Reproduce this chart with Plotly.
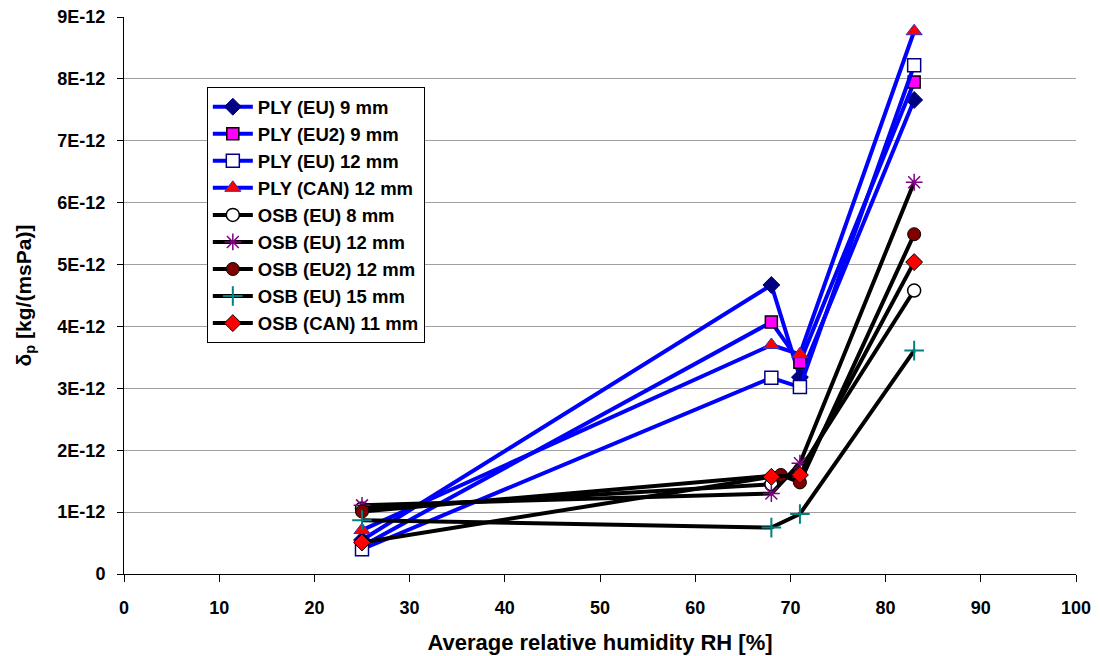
import plotly.graph_objects as go

# Data (y values in units of 1E-12 kg/(msPa))
names = ["PLY (EU) 9 mm", "PLY (EU2) 9 mm", "PLY (EU) 12 mm", "PLY (CAN) 12 mm",
         "OSB (EU) 8 mm", "OSB (EU) 12 mm", "OSB (EU2) 12 mm", "OSB (EU) 15 mm",
         "OSB (CAN) 11 mm"]
rh_ply_eu9 = [25, 68, 71, 83]
dp_ply_eu9 = [0.55, 4.67, 3.18, 7.66]
rh_ply_eu2_9 = [25, 68, 71, 83]
dp_ply_eu2_9 = [0.45, 4.07, 3.42, 7.95]
rh_ply_eu12 = [25, 68, 71, 83]
dp_ply_eu12 = [0.40, 3.17, 3.02, 8.22]
rh_ply_can12 = [25, 68, 71, 83]
dp_ply_can12 = [0.71, 3.70, 3.55, 8.77]
rh_osb_eu8 = [25, 68, 71, 83]
dp_osb_eu8 = [1.06, 1.45, 1.68, 4.58]
rh_osb_eu12 = [25, 68, 71, 83]
dp_osb_eu12 = [1.11, 1.30, 1.79, 6.33]
rh_osb_eu2_12 = [25, 69, 71, 83]
dp_osb_eu2_12 = [1.01, 1.60, 1.48, 5.49]
rh_osb_eu15 = [25, 68, 71, 83]
dp_osb_eu15 = [0.87, 0.75, 0.97, 3.61]
rh_osb_can11 = [25, 68, 71, 83]
dp_osb_can11 = [0.51, 1.57, 1.60, 5.04]

y_ticks = [0, 1, 2, 3, 4, 5, 6, 7, 8, 9]
y_ticktext = ["0"] + [f"{v}E-12" for v in y_ticks[1:]]
x_ticks = list(range(0, 101, 10))

series = [
    (rh_ply_eu9, dp_ply_eu9, "#0000FF", dict(symbol="diamond", size=13, color="#000080", line=dict(color="#000080", width=1))),
    (rh_ply_eu2_9, dp_ply_eu2_9, "#0000FF", dict(symbol="square", size=12, color="#FF00FF", line=dict(color="#000000", width=1.5))),
    (rh_ply_eu12, dp_ply_eu12, "#0000FF", dict(symbol="square", size=13, color="#FFFFFF", line=dict(color="#000080", width=1.5))),
    (rh_ply_can12, dp_ply_can12, "#0000FF", dict(symbol="triangle-up", size=14, color="#FF0000", line=dict(color="#3333CC", width=1))),
    (rh_osb_eu8, dp_osb_eu8, "#000000", dict(symbol="circle", size=13, color="#FFFFFF", line=dict(color="#000000", width=1.5))),
    (rh_osb_eu12, dp_osb_eu12, "#000000", dict(symbol="asterisk-open", size=14, color="#800080", line=dict(color="#800080", width=1.5))),
    (rh_osb_eu2_12, dp_osb_eu2_12, "#000000", dict(symbol="circle", size=13, color="#800000", line=dict(color="#000000", width=1))),
    (rh_osb_eu15, dp_osb_eu15, "#000000", dict(symbol="cross-thin-open", size=14, color="#008080", line=dict(color="#008080", width=2))),
    (rh_osb_can11, dp_osb_can11, "#000000", dict(symbol="diamond", size=13, color="#FF0000", line=dict(color="#000000", width=1))),
]

fig = go.Figure()
for i, (xs, ys, lc, mk) in enumerate(series):
    fig.add_trace(go.Scatter(
        x=xs, y=[v * 1e-12 for v in ys], mode="lines+markers", name=names[i],
        line=dict(color=lc, width=4), marker=mk, legendgroup=f"g{i}",
    ))

font_family = "Liberation Sans, Arial, sans-serif"
# page body has an 8px margin; figure sized so the plot area lands where the reference has it
fig.update_layout(
    width=1092, height=648,
    margin=dict(l=116, r=24, t=9, b=82),
    paper_bgcolor="white", plot_bgcolor="white",
    font=dict(family=font_family, color="black"),
    showlegend=True,
    legend=dict(
        x=0.087, y=0.874, xanchor="left", yanchor="top",
        bgcolor="white", bordercolor="black", borderwidth=1,
        font=dict(family=font_family, size=18.5, color="black", weight="bold"),
        tracegroupgap=0, itemwidth=40,
    ),
    xaxis=dict(
        range=[0, 100], tickvals=x_ticks, ticks="outside", ticklen=7,
        tickcolor="black", showline=True, linecolor="black", linewidth=1,
        showgrid=False, zeroline=False, automargin=False,
        tickfont=dict(size=18, weight="bold"), ticklabelstandoff=10,
        ticklabeloverflow="allow",
        title=dict(text="Average relative humidity RH [%]", font=dict(size=22, weight="bold"), standoff=18),
    ),
    yaxis=dict(
        range=[0, 9e-12], tickvals=[v * 1e-12 for v in y_ticks], ticktext=y_ticktext,
        ticks="outside", ticklen=6, tickcolor="black", automargin=False,
        showline=True, linecolor="black", linewidth=1,
        showgrid=True, gridcolor="#A0A0A0", gridwidth=1, zeroline=False,
        tickfont=dict(size=18, weight="bold"), ticklabelstandoff=8,
        ticklabeloverflow="allow",
        title=dict(text="δ<sub>p</sub> [kg/(msPa)]", font=dict(size=21, weight="bold"), standoff=20),
    ),
)

fig.write_html("out.html")
